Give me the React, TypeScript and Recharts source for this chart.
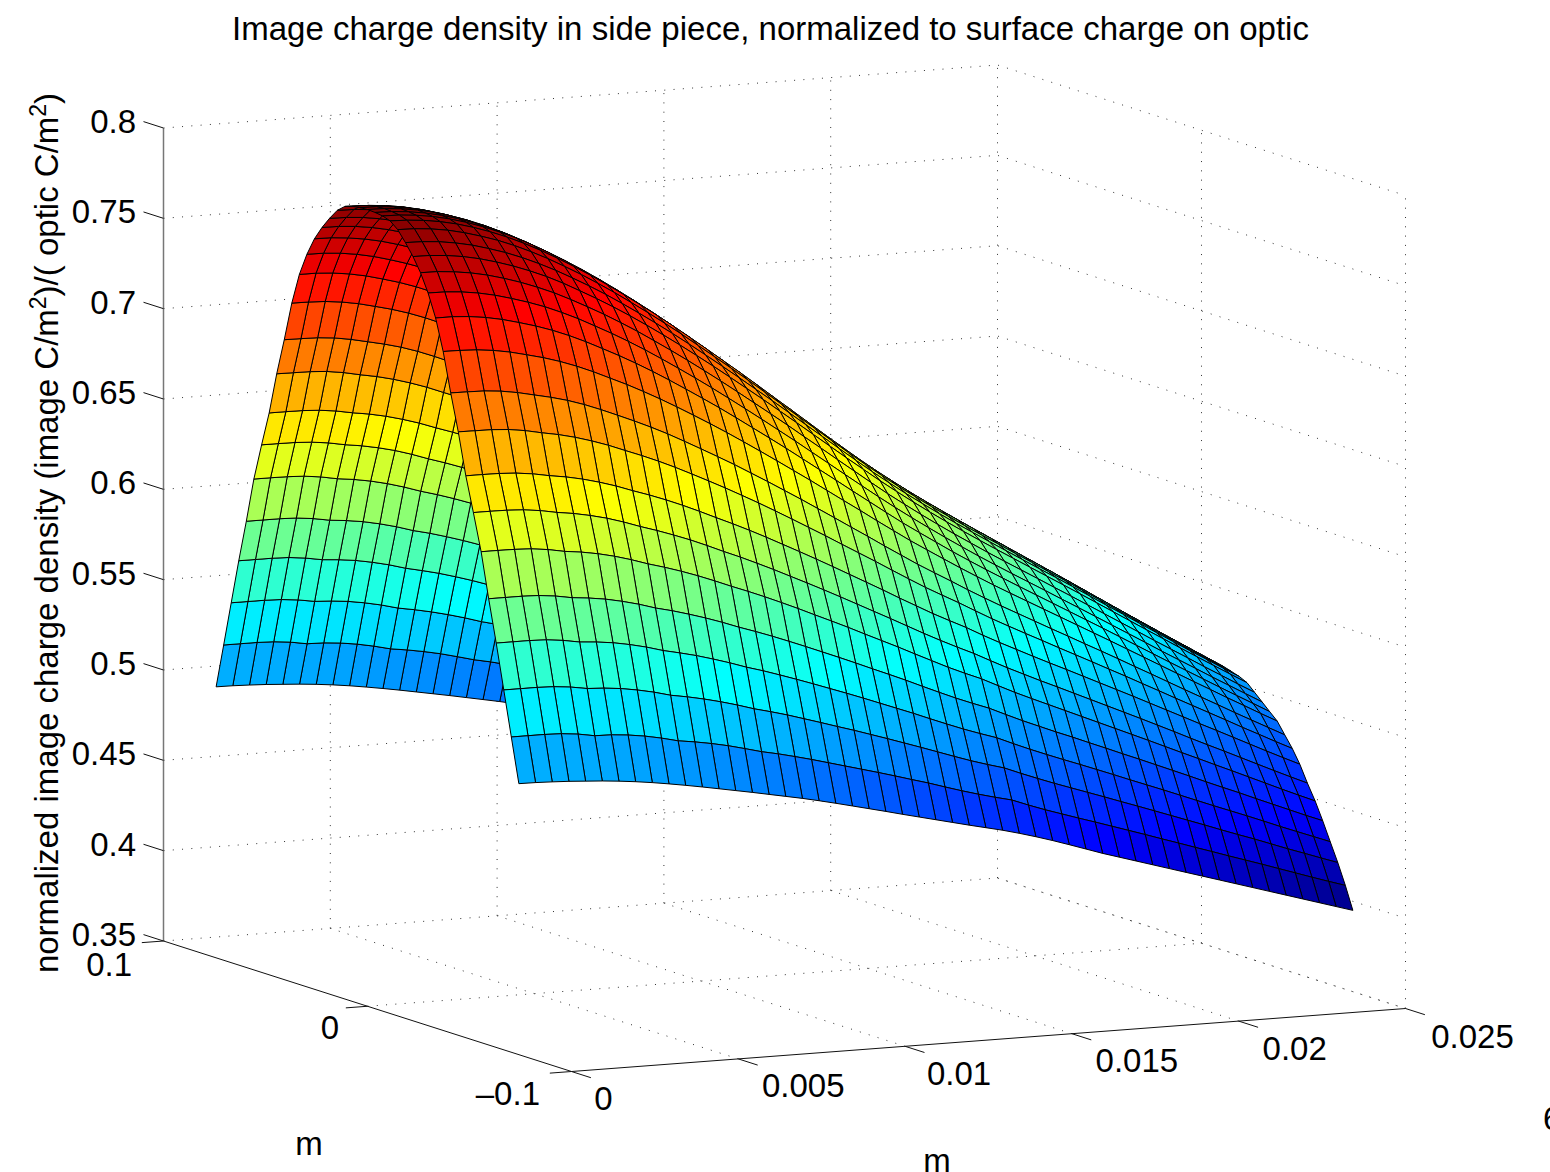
import React from "react";
import { ScatterChart, Scatter, XAxis, YAxis } from "recharts";

const FONT = '"Liberation Sans", Arial, sans-serif';
const titleText = "Image charge density in side piece, normalized to surface charge on optic";
const xTicks = [0, 0.005, 0.01, 0.015, 0.02, 0.025];
const xTickLabels = ["0", "0.005", "0.01", "0.015", "0.02", "0.025"];
const yTicks = [0.1, 0, -0.1];
const yTickLabels = ["0.1", "0", "\u20130.1"];
const zTicks = [0.35, 0.4, 0.45, 0.5, 0.55, 0.6, 0.65, 0.7, 0.75, 0.8];
const zTickLabels = ["0.35", "0.4", "0.45", "0.5", "0.55", "0.6", "0.65", "0.7", "0.75", "0.8"];

// surface samples: x positions (m)
const xSamples = [0, 0.0005, 0.001, 0.0015, 0.002, 0.0025, 0.003, 0.0035, 0.004, 0.0045, 0.005, 0.0055, 0.006, 0.0065, 0.007, 0.0075, 0.008, 0.0085, 0.009, 0.0095, 0.01, 0.0105, 0.011, 0.0115, 0.012, 0.0125, 0.013, 0.0135, 0.014, 0.0145, 0.015, 0.0155, 0.016, 0.0165, 0.017, 0.0175, 0.018, 0.0185, 0.019, 0.0195, 0.02, 0.0205, 0.021, 0.0215, 0.022, 0.0225, 0.023, 0.0235, 0.024, 0.0245, 0.025];
// |y| positions (m), the surface reads as symmetric about y = 0
const ySamples = [0, 0.0037, 0.0074, 0.0111, 0.0148, 0.0186, 0.0223, 0.026, 0.0297, 0.0334, 0.0371, 0.0408, 0.0445, 0.0482, 0.0519, 0.0557, 0.0594, 0.0631, 0.0668, 0.0705, 0.0742];
// z values in units of 1e-4: one row per |y|, one column per x
const zRows = [
[7910,7908,7900,7886,7866,7840,7809,7773,7732,7686,7636,7583,7527,7468,7406,7342,7276,7208,7138,7067,6995,6922,6848,6773,6698,6623,6548,6474,6401,6331,6263,6198,6135,6074,6014,5955,5897,5839,5781,5723,5665,5606,5547,5488,5429,5371,5313,5255,5198,5141,5085],
[7907,7905,7897,7883,7863,7837,7806,7770,7729,7683,7633,7580,7524,7465,7403,7339,7274,7206,7136,7065,6993,6920,6846,6771,6696,6621,6546,6472,6399,6329,6261,6196,6133,6072,6012,5954,5896,5838,5780,5722,5664,5605,5546,5487,5428,5370,5312,5254,5197,5140,5084],
[7901,7899,7891,7877,7857,7831,7800,7764,7723,7677,7627,7574,7518,7459,7397,7333,7267,7199,7129,7058,6986,6913,6840,6765,6690,6615,6540,6466,6394,6324,6256,6191,6128,6067,6007,5948,5890,5832,5774,5716,5658,5600,5541,5482,5423,5365,5307,5249,5192,5135,5079],
[7887,7884,7876,7862,7842,7816,7785,7749,7708,7662,7612,7559,7503,7444,7382,7318,7253,7185,7115,7044,6972,6900,6826,6751,6677,6602,6527,6454,6381,6311,6244,6179,6116,6055,5996,5937,5879,5821,5763,5706,5648,5589,5530,5472,5413,5355,5297,5240,5183,5126,5070],
[7852,7850,7842,7828,7807,7781,7751,7715,7674,7629,7579,7527,7471,7413,7351,7288,7223,7156,7086,7016,6945,6873,6800,6726,6652,6578,6504,6431,6359,6290,6223,6159,6096,6036,5976,5918,5861,5803,5746,5688,5631,5572,5514,5455,5397,5340,5282,5225,5168,5112,5057],
[7794,7792,7785,7771,7752,7726,7697,7662,7622,7578,7529,7478,7424,7366,7306,7244,7180,7114,7046,6977,6907,6836,6765,6692,6619,6546,6473,6401,6330,6262,6196,6133,6071,6011,5953,5895,5838,5781,5724,5668,5611,5553,5495,5438,5380,5323,5266,5209,5154,5098,5043],
[7730,7729,7722,7709,7690,7665,7636,7602,7564,7520,7471,7421,7368,7312,7253,7192,7129,7064,6998,6930,6861,6792,6721,6650,6578,6506,6434,6364,6294,6227,6162,6099,6038,5979,5921,5864,5808,5752,5696,5640,5584,5527,5470,5413,5356,5300,5243,5187,5132,5077,5023],
[7654,7653,7645,7632,7613,7588,7559,7525,7487,7443,7396,7347,7294,7239,7180,7120,7058,6994,6929,6862,6794,6726,6657,6586,6516,6445,6375,6305,6236,6171,6107,6045,5985,5927,5869,5813,5758,5703,5647,5592,5536,5480,5424,5368,5311,5256,5201,5145,5091,5036,4983],
[7555,7554,7547,7534,7515,7490,7462,7430,7392,7350,7303,7255,7204,7150,7093,7034,6974,6912,6848,6783,6717,6650,6583,6514,6445,6376,6307,6239,6173,6109,6047,5986,5927,5869,5813,5758,5704,5650,5595,5541,5486,5431,5376,5321,5265,5211,5157,5102,5049,4996,4943],
[7430,7430,7424,7412,7394,7370,7344,7313,7277,7236,7191,7145,7096,7044,6989,6932,6874,6815,6753,6690,6627,6563,6497,6431,6365,6298,6232,6166,6101,6040,5980,5920,5863,5807,5753,5699,5646,5593,5540,5487,5434,5380,5326,5272,5218,5165,5112,5059,5007,4955,4903],
[7258,7257,7253,7243,7227,7205,7182,7154,7121,7083,7041,6999,6953,6905,6854,6801,6747,6691,6633,6574,6514,6453,6392,6329,6266,6204,6140,6078,6016,5958,5901,5844,5789,5735,5683,5632,5581,5530,5479,5428,5377,5325,5273,5221,5169,5117,5066,5014,4964,4913,4864],
[7042,7041,7039,7031,7016,6996,6976,6952,6922,6887,6849,6810,6769,6725,6677,6628,6578,6527,6473,6419,6363,6307,6249,6191,6132,6074,6014,5956,5898,5844,5791,5736,5684,5633,5584,5535,5486,5438,5389,5341,5292,5242,5193,5143,5093,5044,4995,4945,4897,4849,4801],
[6840,6839,6838,6832,6819,6800,6783,6761,6734,6703,6667,6632,6594,6553,6509,6464,6418,6370,6321,6270,6218,6165,6112,6057,6003,5949,5893,5838,5784,5734,5685,5633,5582,5534,5487,5441,5394,5348,5302,5255,5209,5161,5114,5066,5019,4972,4925,4877,4831,4784,4739],
[6610,6610,6609,6604,6593,6576,6562,6543,6519,6491,6458,6427,6393,6356,6316,6274,6233,6190,6145,6098,6051,6003,5954,5904,5854,5804,5752,5702,5652,5606,5561,5511,5464,5419,5374,5330,5287,5243,5199,5155,5111,5066,5021,4976,4931,4887,4842,4797,4752,4708,4665],
[6420,6420,6419,6414,6403,6386,6373,6355,6333,6305,6273,6244,6212,6178,6140,6100,6062,6021,5979,5935,5891,5846,5800,5753,5706,5659,5611,5563,5517,5473,5431,5384,5338,5295,5252,5211,5169,5127,5085,5043,5001,4958,4915,4871,4828,4786,4743,4700,4657,4615,4574],
[6217,6217,6216,6212,6201,6184,6173,6157,6136,6110,6080,6054,6025,5993,5958,5921,5886,5849,5810,5770,5728,5687,5645,5601,5558,5515,5470,5426,5382,5342,5304,5259,5215,5174,5134,5094,5054,5014,4974,4934,4894,4853,4812,4772,4731,4691,4650,4609,4568,4528,4489],
[5970,5970,5970,5967,5957,5941,5932,5919,5900,5877,5849,5827,5801,5773,5742,5708,5677,5644,5609,5573,5536,5499,5461,5422,5384,5345,5304,5264,5225,5189,5155,5113,5072,5034,4996,4960,4922,4885,4847,4810,4772,4734,4696,4657,4619,4582,4543,4505,4467,4429,4393],
[5738,5738,5738,5735,5725,5709,5702,5691,5674,5653,5627,5607,5585,5559,5531,5500,5473,5443,5412,5380,5347,5314,5280,5245,5210,5175,5138,5102,5067,5035,5005,4965,4927,4891,4856,4822,4787,4752,4716,4681,4646,4610,4574,4538,4503,4468,4432,4395,4360,4325,4290],
[5492,5492,5492,5489,5480,5465,5460,5451,5436,5417,5393,5377,5358,5336,5311,5283,5260,5235,5207,5179,5150,5122,5092,5062,5031,5000,4968,4936,4905,4877,4851,4814,4779,4745,4713,4681,4649,4616,4584,4551,4518,4485,4452,4418,4385,4353,4319,4285,4253,4220,4188],
[5245,5245,5245,5242,5233,5217,5215,5207,5194,5176,5154,5141,5125,5106,5083,5059,5040,5018,4995,4970,4945,4920,4895,4869,4842,4816,4787,4759,4733,4709,4687,4652,4619,4589,4559,4530,4500,4470,4440,4409,4379,4348,4318,4287,4257,4227,4196,4165,4134,4104,4075],
[5000,4999,4996,4992,4986,4980,4972,4962,4950,4936,4921,4905,4888,4871,4854,4836,4818,4800,4780,4759,4737,4715,4693,4670,4648,4626,4604,4582,4561,4540,4516,4490,4462,4432,4401,4370,4342,4314,4286,4258,4230,4202,4174,4146,4118,4090,4062,4034,4006,3978,3950],
];

const W = 1550;
const H = 1172;

// orthographic view of the MATLAB axes box
function project(x: number, y: number, z: number) {
  const u = x / 0.025;
  const t = (y + 0.1) / 0.2;
  const s = (z - 0.35) / 0.45;
  return { sx: 571.5 + 834 * u - 408 * t, sy: 1071.5 - 63 * u - 130.5 * t - 813 * s };
}

function jet(v: number) {
  const c = (a: number) => Math.round(255 * Math.max(0, Math.min(1, a)));
  const r = c(Math.min(4 * v - 1.5, -4 * v + 4.5));
  const g = c(Math.min(4 * v - 0.5, -4 * v + 3.5));
  const b = c(Math.min(4 * v + 0.5, -4 * v + 2.5));
  return `rgb(${r},${g},${b})`;
}

const Z_MIN = 3950;
const Z_MAX = 7910;

// signed y rows, far side first, so nearer cells paint over farther ones
const signedRows: { y: number; row: number[] }[] = [];
for (let j = ySamples.length - 1; j >= 0; j--) signedRows.push({ y: ySamples[j], row: zRows[j] });
for (let j = 1; j < ySamples.length; j++) signedRows.push({ y: -ySamples[j], row: zRows[j] });

const cells: any[] = [];
for (let k = 0; k < signedRows.length - 1; k++) {
  const a = signedRows[k];
  const b = signedRows[k + 1];
  for (let i = xSamples.length - 2; i >= 0; i--) {
    const z = [a.row[i], a.row[i + 1], b.row[i + 1], b.row[i]];
    const p0 = project(xSamples[i], a.y, z[0] / 10000);
    const p1 = project(xSamples[i + 1], a.y, z[1] / 10000);
    const p2 = project(xSamples[i + 1], b.y, z[2] / 10000);
    const p3 = project(xSamples[i], b.y, z[3] / 10000);
    cells.push({
      sx: p0.sx,
      sy: p0.sy,
      rel: [p0, p1, p2, p3].map((p) => [p.sx - p0.sx, p.sy - p0.sy]),
      level: ((z[0] + z[1] + z[2] + z[3]) / 4 - Z_MIN) / (Z_MAX - Z_MIN),
    });
  }
}

const CellShape = (p: any) => {
  const pts = p.payload.rel.map((d: number[]) => `${p.cx + d[0]},${p.cy + d[1]}`).join(" ");
  return <polygon points={pts} fill={jet(p.payload.level)} stroke="#000" strokeWidth={1} strokeLinejoin="round" />;
};

const Nothing = () => null;

const X0 = xTicks[0];
const X1 = xTicks[xTicks.length - 1];
const Y0 = yTicks[yTicks.length - 1];
const Y1 = yTicks[0];
const Z0 = zTicks[0];
const Z1 = zTicks[zTicks.length - 1];

const dotted: any[][] = [];
zTicks.forEach((z) => dotted.push([project(X0, Y1, z), project(X1, Y1, z), project(X1, Y0, z)]));
xTicks.slice(1).forEach((x) => dotted.push([project(x, Y1, Z0), project(x, Y1, Z1)]));
[0, Y0].forEach((y) => dotted.push([project(X1, y, Z0), project(X1, y, Z1)]));
xTicks.slice(1).forEach((x) => dotted.push([project(x, Y0, Z0), project(x, Y1, Z0)]));
dotted.push([project(X0, 0, Z0), project(X1, 0, Z0)]);

const solid: any[][] = [
  [project(X0, Y1, Z0), project(X0, Y0, Z0)],
  [project(X0, Y0, Z0), project(X1, Y0, Z0)],
];
zTicks.forEach((z) => solid.push([project(X0, Y1, z), project(X0, Y1 + 0.0098, z)]));
xTicks.forEach((x) => solid.push([project(x, Y0, Z0), project(x, Y0 - 0.0095, Z0)]));
yTicks.forEach((y) => solid.push([project(X0, y, Z0), project(X0 - 0.00065, y, Z0)]));

const zAxisLine = [project(X0, Y1, Z0), project(X0, Y1, Z1)];

const labelStyle = { fontFamily: FONT, fontSize: 33, fill: "#000" };

const zLabels = zTicks.map((z, i) => {
  const p = project(X0, Y1, z);
  return { sx: 136, sy: p.sy - 6.5, label: zTickLabels[i], anchor: "end" };
});
const yLabelAt = [
  { sx: 132, sy: 964, anchor: "end" },
  { sx: 330, sy: 1027, anchor: "middle" },
  { sx: 540, sy: 1093, anchor: "end" },
];
const yLabels = yTickLabels.map((label, i) => ({ ...yLabelAt[i], label }));
const xLabelOffset = [
  { dx: 32, dy: 27 },
  { dx: 65, dy: 27 },
  { dx: 54, dy: 27 },
  { dx: 65, dy: 27 },
  { dx: 56, dy: 27 },
  { dx: 67, dy: 28 },
];
const xLabels = xTicks.map((x, i) => {
  const p = project(x, Y0, Z0);
  return { sx: p.sx + xLabelOffset[i].dx, sy: p.sy + xLabelOffset[i].dy, label: xTickLabels[i], anchor: "middle" };
});
const otherLabels = [
  { sx: 309, sy: 1143, label: "m", anchor: "middle" },
  { sx: 937, sy: 1160, label: "m", anchor: "middle" },
  { sx: 1543, sy: 1118, label: "6", anchor: "start" },
];

const TextShape = (p: any) => (
  <text x={p.cx} y={p.cy} dy="0.35em" textAnchor={p.payload.anchor} {...labelStyle}>
    {p.payload.label}
  </text>
);

const Title = (p: any) => (
  <text x={p.cx} y={p.cy} dy="0.35em" textAnchor="middle" {...labelStyle}>
    {titleText}
  </text>
);

const YAxisTitle = (p: any) => (
  <text transform={`translate(${p.cx},${p.cy}) rotate(-90)`} textAnchor="middle" {...labelStyle}>
    <tspan>normalized image charge density (image C/m</tspan>
    <tspan dy={-12} fontSize={23}>2</tspan>
    <tspan dy={12}>)/( optic C/m</tspan>
    <tspan dy={-12} fontSize={23}>2</tspan>
    <tspan dy={12}>)</tspan>
  </text>
);

export default function App() {
  return (
    <div style={{ position: "absolute", left: 0, top: 0, width: W, height: H, overflow: "hidden", background: "#fff" }}>
      <ScatterChart width={W} height={H} margin={{ top: 0, right: 0, bottom: 0, left: 0 }}>
        <XAxis type="number" dataKey="sx" domain={[0, W]} hide />
        <YAxis type="number" dataKey="sy" domain={[0, H]} reversed hide />
        {dotted.map((d, i) => (
          <Scatter key={`g${i}`} data={d} isAnimationActive={false} shape={Nothing} line={{ stroke: "#333", strokeWidth: 1, strokeDasharray: "1 8.3" }} />
        ))}
        <Scatter data={zAxisLine} isAnimationActive={false} shape={Nothing} line={{ stroke: "#777", strokeWidth: 1.5 }} />
        {solid.map((d, i) => (
          <Scatter key={`s${i}`} data={d} isAnimationActive={false} shape={Nothing} line={{ stroke: "#111", strokeWidth: 1 }} />
        ))}
        <Scatter data={cells} isAnimationActive={false} shape={CellShape} />
        <Scatter data={zLabels} isAnimationActive={false} shape={TextShape} />
        <Scatter data={yLabels} isAnimationActive={false} shape={TextShape} />
        <Scatter data={xLabels} isAnimationActive={false} shape={TextShape} />
        <Scatter data={otherLabels} isAnimationActive={false} shape={TextShape} />
        <Scatter data={[{ sx: 770.5, sy: 28 }]} isAnimationActive={false} shape={Title} />
        <Scatter data={[{ sx: 58, sy: 533 }]} isAnimationActive={false} shape={YAxisTitle} />
      </ScatterChart>
    </div>
  );
}
